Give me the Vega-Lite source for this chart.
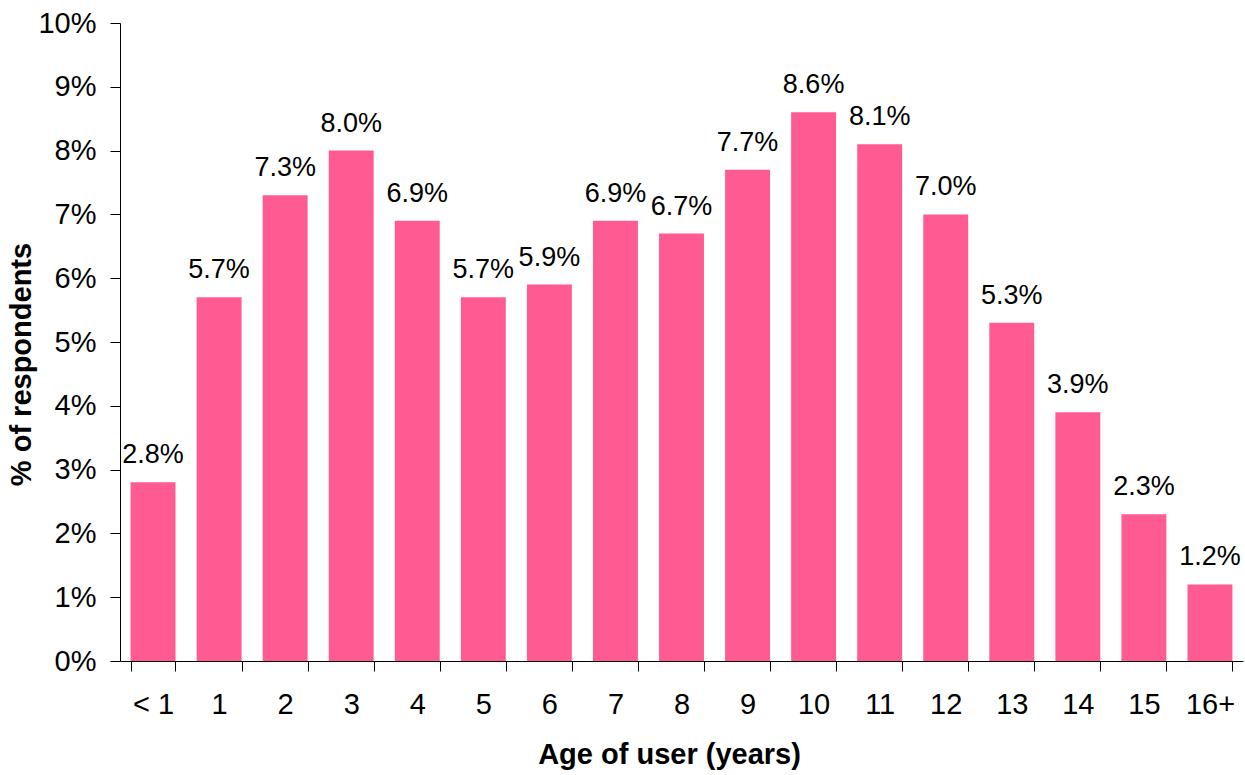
{
  "$schema": "https://vega.github.io/schema/vega-lite/v6.json",
  "width": 1123,
  "height": 638,
  "autosize": {"type": "none"},
  "padding": {"left": 120, "top": 23, "right": 2, "bottom": 114},
  "background": "white",
  "config": {
    "view": {"stroke": null},
    "font": "Liberation Sans",
    "axis": {"grid": false, "domainColor": "#000", "tickColor": "#000", "labelColor": "#000", "titleColor": "#000", "labelFont": "Liberation Sans", "titleFont": "Liberation Sans"}
  },
  "data": {
    "values": [
      {"age": "< 1", "pct": 0.028},
      {"age": "1", "pct": 0.057},
      {"age": "2", "pct": 0.073},
      {"age": "3", "pct": 0.080},
      {"age": "4", "pct": 0.069},
      {"age": "5", "pct": 0.057},
      {"age": "6", "pct": 0.059},
      {"age": "7", "pct": 0.069},
      {"age": "8", "pct": 0.067},
      {"age": "9", "pct": 0.077},
      {"age": "10", "pct": 0.086},
      {"age": "11", "pct": 0.081},
      {"age": "12", "pct": 0.070},
      {"age": "13", "pct": 0.053},
      {"age": "14", "pct": 0.039},
      {"age": "15", "pct": 0.023},
      {"age": "16+", "pct": 0.012}
    ]
  },
  "encoding": {
    "x": {
      "field": "age", "type": "nominal", "sort": null,
      "scale": {"paddingInner": 0.32, "paddingOuter": 0.16},
      "axis": {"title": "Age of user (years)", "labelAngle": 0, "labelFontSize": 29, "labelPadding": 19, "tickSize": 10, "tickBand": "extent", "titleFontSize": 29, "titleFontWeight": "bold", "titlePadding": 21, "titleX": 549, "domainWidth": 1, "tickWidth": 1}
    },
    "y": {
      "field": "pct", "type": "quantitative",
      "scale": {"domain": [0, 0.1], "nice": false},
      "axis": {"title": "% of respondents", "format": ".0%", "values": [0, 0.01, 0.02, 0.03, 0.04, 0.05, 0.06, 0.07, 0.08, 0.09, 0.1], "labelFontSize": 29, "labelPadding": 14, "tickSize": 10, "titleFontSize": 29, "titleFontWeight": "bold", "titlePadding": 1, "titleY": 341, "domainWidth": 1, "tickWidth": 1}
    }
  },
  "layer": [
    {"mark": {"type": "bar", "color": "#FF5A91"}},
    {"mark": {"type": "text", "dy": -19, "baseline": "alphabetic", "fontSize": 27, "color": "#000", "font": "Liberation Sans"},
     "encoding": {"text": {"field": "pct", "type": "quantitative", "format": ".1%"}}}
  ]
}
